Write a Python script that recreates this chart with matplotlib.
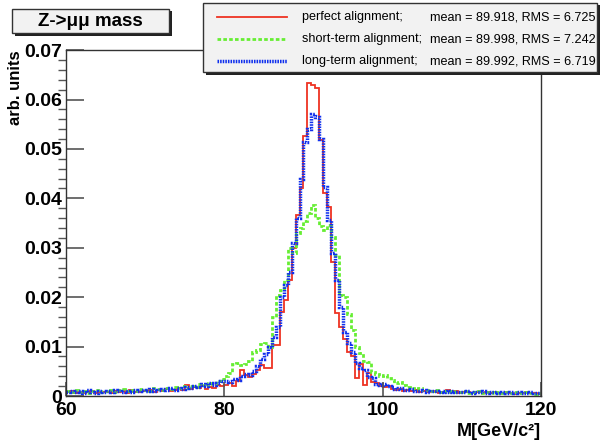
import numpy as np
import matplotlib
matplotlib.use("Agg")
import matplotlib.pyplot as plt
from matplotlib.patches import Rectangle
from matplotlib.lines import Line2D

plt.rcParams['font.family'] = ['Liberation Sans', 'DejaVu Sans']

# histogram range: 60 - 120 GeV, 0.5 GeV bins
m_lo, m_hi, n_bins = 60, 120, 120

perfect = [
    0.0008, 0.0010, 0.0007, 0.0009, 0.0006, 0.0008, 0.0010, 0.0007, 0.0009, 0.0008,
    0.0009, 0.0006, 0.0011, 0.0008, 0.0010, 0.0007, 0.0012, 0.0009, 0.0008, 0.0011,
    0.0010, 0.0013, 0.0009, 0.0012, 0.0011, 0.0014, 0.0010, 0.0013, 0.0016, 0.0012,
    0.0022, 0.0015, 0.0018, 0.0016, 0.0021, 0.0014, 0.0019, 0.0017, 0.0023, 0.0020,
    0.0022, 0.0026, 0.0021, 0.0030, 0.0053, 0.0042, 0.0038, 0.0045, 0.0052, 0.0063,
    0.0057, 0.0057, 0.0103, 0.0103, 0.0170, 0.0194, 0.0235, 0.0300, 0.0366, 0.0420,
    0.0527, 0.0634, 0.0629, 0.0624, 0.0518, 0.0410, 0.0383, 0.0272, 0.0168, 0.0140,
    0.0115, 0.0090, 0.0080, 0.0036, 0.0064, 0.0022, 0.0046, 0.0028, 0.0026, 0.0020,
    0.0018, 0.0020, 0.0015, 0.0012, 0.0014, 0.0011, 0.0013, 0.0010, 0.0012, 0.0009,
    0.0011, 0.0008, 0.0010, 0.0009, 0.0007, 0.0009, 0.0012, 0.0008, 0.0010, 0.0007,
    0.0009, 0.0008, 0.0006, 0.0009, 0.0008, 0.0007, 0.0009, 0.0006, 0.0008, 0.0007,
    0.0006, 0.0008, 0.0007, 0.0005, 0.0007, 0.0006, 0.0008, 0.0006, 0.0007, 0.0005,
]

short_term = [
    0.0010, 0.0008, 0.0012, 0.0009, 0.0011, 0.0007, 0.0010, 0.0012, 0.0009, 0.0011,
    0.0010, 0.0013, 0.0009, 0.0012, 0.0014, 0.0010, 0.0013, 0.0011, 0.0015, 0.0012,
    0.0013, 0.0011, 0.0016, 0.0014, 0.0012, 0.0017, 0.0015, 0.0018, 0.0016, 0.0020,
    0.0017, 0.0021, 0.0019, 0.0024, 0.0022, 0.0020, 0.0026, 0.0024, 0.0030, 0.0034,
    0.0040, 0.0047, 0.0065, 0.0066, 0.0063, 0.0064, 0.0070, 0.0090, 0.0093, 0.0105,
    0.0108, 0.0100, 0.0160, 0.0205, 0.0215, 0.0235, 0.0300, 0.0290, 0.0330, 0.0340,
    0.0355, 0.0370, 0.0386, 0.0360, 0.0345, 0.0336, 0.0346, 0.0322, 0.0285, 0.0204,
    0.0200, 0.0165, 0.0133, 0.0099, 0.0087, 0.0070, 0.0069, 0.0049, 0.0045, 0.0040,
    0.0042, 0.0036, 0.0032, 0.0026, 0.0028, 0.0022, 0.0018, 0.0016, 0.0014, 0.0016,
    0.0012, 0.0013, 0.0010, 0.0012, 0.0009, 0.0011, 0.0008, 0.0010, 0.0009, 0.0008,
    0.0010, 0.0007, 0.0009, 0.0008, 0.0010, 0.0007, 0.0008, 0.0009, 0.0006, 0.0008,
    0.0007, 0.0009, 0.0006, 0.0008, 0.0007, 0.0006, 0.0008, 0.0007, 0.0005, 0.0007,
]

long_term = [
    0.0009, 0.0011, 0.0008, 0.0010, 0.0007, 0.0012, 0.0009, 0.0006, 0.0010, 0.0008,
    0.0011, 0.0009, 0.0012, 0.0010, 0.0008, 0.0011, 0.0009, 0.0013, 0.0010, 0.0012,
    0.0011, 0.0014, 0.0010, 0.0013, 0.0015, 0.0012, 0.0016, 0.0013, 0.0017, 0.0015,
    0.0019, 0.0016, 0.0021, 0.0018, 0.0024, 0.0020, 0.0026, 0.0022, 0.0027, 0.0030,
    0.0030, 0.0028, 0.0035, 0.0032, 0.0040, 0.0045, 0.0043, 0.0050, 0.0060, 0.0075,
    0.0085, 0.0100, 0.0120, 0.0140, 0.0200, 0.0225, 0.0250, 0.0310, 0.0360, 0.0440,
    0.0515, 0.0540, 0.0570, 0.0565, 0.0520, 0.0423, 0.0356, 0.0290, 0.0235, 0.0180,
    0.0130, 0.0107, 0.0089, 0.0067, 0.0057, 0.0053, 0.0039, 0.0036, 0.0025, 0.0022,
    0.0024, 0.0020, 0.0018, 0.0015, 0.0017, 0.0013, 0.0012, 0.0014, 0.0011, 0.0010,
    0.0012, 0.0009, 0.0011, 0.0010, 0.0008, 0.0010, 0.0009, 0.0011, 0.0008, 0.0009,
    0.0008, 0.0010, 0.0007, 0.0009, 0.0008, 0.0010, 0.0007, 0.0008, 0.0009, 0.0006,
    0.0008, 0.0007, 0.0009, 0.0006, 0.0008, 0.0007, 0.0006, 0.0008, 0.0007, 0.0006,
]

names = ["perfect alignment;", "short-term alignment;", "long-term alignment;"]
stats = ["mean = 89.918, RMS = 6.725", "mean = 89.998, RMS = 7.242", "mean = 89.992, RMS = 6.719"]
colors = ["#ee3322", "#66ee33", "#1030ee"]

edges = np.linspace(m_lo, m_hi, n_bins + 1)

fig = plt.figure(figsize=(6.03, 4.40), dpi=100)
ax = fig.add_axes([0.1095, 0.1, 0.7875, 0.786])

styles = [
    dict(lw=1.3, linestyle="-"),
    dict(lw=2.0, linestyle=(0, (1.3, 0.8))),
    dict(lw=2.5, linestyle=(0, (0.45, 0.3))),
]
for vals, c, st in zip([perfect, short_term, long_term], colors, styles):
    ax.stairs(vals, edges, baseline=None, color=c, **st)

ax.set_xlim(m_lo, m_hi)
ax.set_ylim(0, 0.07)
ax.set_xticks([60, 80, 100, 120])
ax.set_yticks([0, 0.01, 0.02, 0.03, 0.04, 0.05, 0.06, 0.07])
ax.set_yticklabels(["0", "0.01", "0.02", "0.03", "0.04", "0.05", "0.06", "0.07"])
ax.set_yticks(np.arange(0, 0.0701, 0.002), minor=True)
ax.tick_params(axis="both", direction="in", colors="#555555", labelcolor="black",
               labelsize=14)
ax.tick_params(axis="y", which="major", length=13, width=1.2, pad=3)
ax.tick_params(axis="y", which="minor", length=6, width=1, colors="#555555")
ax.tick_params(axis="x", which="major", length=10, width=1.2, pad=4)
for lab in ax.get_xticklabels() + ax.get_yticklabels():
    lab.set_fontweight("bold")
for sp in ax.spines.values():
    sp.set_color("#333333")
    sp.set_linewidth(1)

ax.set_xlabel("M[GeV/c²]", fontsize=13, fontweight="bold", loc="right", labelpad=3)
ax.set_ylabel("arb. units", fontsize=12, fontweight="bold", loc="top", labelpad=1)

# title box with shadow (ROOT style)
W, H = 603.0, 440.0
def fx(px):
    return px / W
def fy(py):
    return 1 - py / H

fig.patches.append(Rectangle((fx(15), fy(36)), fx(157), 25 / H, transform=fig.transFigure,
                             facecolor="#222222", edgecolor="none", zorder=5))
fig.patches.append(Rectangle((fx(12), fy(33)), fx(157), 24 / H, transform=fig.transFigure,
                             facecolor="#f2f2f2", edgecolor="#333333", lw=1, zorder=6))
fig.text(fx(90), fy(21), "Z->μμ mass", ha="center", va="center", fontsize=13.5,
         fontweight="bold", zorder=7)

# legend box with shadow
fig.patches.append(Rectangle((fx(206), fy(75)), fx(394), 70 / H, transform=fig.transFigure,
                             facecolor="#222222", edgecolor="none", zorder=5))
fig.patches.append(Rectangle((fx(203), fy(72)), fx(394), 69 / H, transform=fig.transFigure,
                             facecolor="#f2f2f2", edgecolor="#333333", lw=1, zorder=6))
rows_y = [17, 39, 61]
for i in range(3):
    st = styles[i]
    fig.lines.append(Line2D([fx(217), fx(287)], [fy(rows_y[i]), fy(rows_y[i])],
                            transform=fig.transFigure, color=colors[i],
                            lw=st["lw"], linestyle=st["linestyle"], zorder=7))
    fig.text(fx(302), fy(rows_y[i]), names[i], ha="left", va="center", fontsize=9.1, zorder=7)
    fig.text(fx(596), fy(rows_y[i]), stats[i], ha="right", va="center", fontsize=9.1, zorder=7)

fig.savefig("out.png", dpi=100, facecolor="white")
